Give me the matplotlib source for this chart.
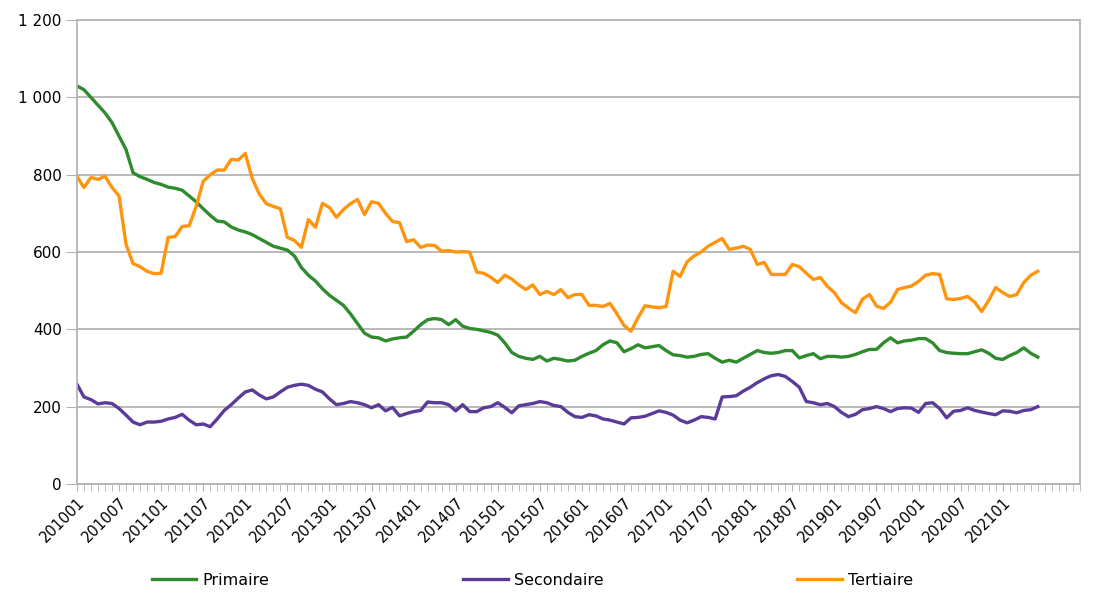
import matplotlib
matplotlib.use("Agg")
import matplotlib.pyplot as plt
from matplotlib.ticker import FuncFormatter, FixedLocator

plt.rcParams['font.family'] = ['DejaVu Sans']

# monthly categories 201001 .. 202112
mois = [f"{a}{m:02d}" for a in range(2010, 2022) for m in range(1, 13)]

primaire = [1030, 1020, 1000, 980, 960, 935, 900, 865, 805, 795,
            788, 780, 775, 768, 765, 760, 745, 730, 712, 695,
            680, 678, 665, 657, 652, 645, 635, 625, 615, 610,
            605, 590, 560, 540, 525, 505, 488, 475, 462, 440,
            415, 390, 380, 378, 370, 375, 378, 380, 395, 412,
            425, 428, 425, 412, 425, 408, 402, 400, 396, 392,
            385, 365, 340, 330, 325, 322, 330, 318, 325, 322,
            318, 320, 330, 338, 345, 360, 370, 365, 342, 350,
            360, 352, 355, 358, 345, 334, 332, 328, 330, 335,
            337, 325, 315, 320, 315, 325, 335, 345, 340, 338,
            340, 345, 345, 326, 332, 337, 324, 330, 330, 328,
            330, 335, 342, 348, 348, 365, 378, 365, 370, 372,
            376, 376, 365, 345, 340, 338, 337, 337, 342, 347,
            338, 325, 322, 332, 340, 352, 338, 328]

secondaire = [258, 225, 218, 207, 210, 208, 195, 178, 160, 153,
              160, 160, 162, 168, 172, 180, 165, 153, 155, 148,
              168, 190, 205, 222, 238, 243, 230, 220, 225, 238,
              250, 255, 258, 255, 245, 238, 220, 205, 208, 213,
              210, 205, 197, 205, 189, 198, 176, 182, 187, 190,
              212, 210, 210, 205, 189, 205, 187, 187, 197, 200,
              210, 198, 184, 202, 205, 208, 213, 210, 203, 200,
              185, 174, 172, 179, 176, 168, 165, 160, 155, 171,
              172, 175, 182, 189, 185, 178, 165, 158, 165, 174,
              172, 168, 225, 226, 228, 240, 250, 262, 272, 280,
              283, 278, 265, 250, 213, 210, 205, 208, 200, 185,
              174, 180, 192, 195, 200, 195, 187, 195, 197, 196,
              185, 208, 210, 195, 171, 188, 190, 197, 190, 186,
              182, 179, 189, 188, 184, 190, 192, 200]

tertiaire = [796, 767, 793, 788, 796, 767, 745, 620, 570, 562,
             550, 544, 545, 638, 640, 666, 668, 718, 783, 800,
             812, 812, 840, 838, 855, 790, 750, 725, 718, 712,
             638, 630, 612, 684, 664, 726, 715, 690, 710, 725,
             736, 697, 730, 726, 700, 679, 676, 627, 632, 612,
             618, 617, 602, 604, 600, 601, 600, 548, 545, 535,
             521, 540, 530, 515, 503, 515, 490, 498, 490, 503,
             482, 490, 490, 462, 462, 459, 467, 440, 410, 395,
             430, 461, 458, 456, 459, 550, 537, 575, 590, 600,
             615, 625, 635, 607, 610, 615, 607, 568, 573, 542,
             542, 542, 568, 562, 545, 529, 534, 511, 495, 469,
             455, 443, 478, 490, 460, 454, 470, 503, 508, 512,
             524, 540, 544, 542, 479, 477, 480, 485, 470, 446,
             475, 508, 495, 485, 490, 521, 540, 550]

fig = plt.figure(figsize=(10.93, 5.93), dpi=100)
ax = fig.add_axes([0.0704, 0.184, 0.9176, 0.782])

x = list(range(len(primaire)))
ax.plot(x, primaire, color='#2e8b2e', lw=2.4, label='Primaire')
ax.plot(x, secondaire, color='#5a3b98', lw=2.4, label='Secondaire')
ax.plot(x, tertiaire, color='#ff950e', lw=2.4, label='Tertiaire')

ax.set_xlim(0, len(mois) - 1)
ax.set_ylim(0, 1200)
ax.set_yticks(range(0, 1201, 200))
ax.yaxis.set_major_formatter(FuncFormatter(lambda v, p: f"{int(v):,}".replace(",", " ")))
ax.grid(axis='y', color='#b4b4b4', lw=1.3)
ax.set_axisbelow(True)

pos = list(range(0, len(primaire), 6))
ax.set_xticks(pos)
ax.set_xticklabels([mois[i] for i in pos], rotation=45, ha='right',
                   rotation_mode='anchor', fontsize=10.5)
ax.xaxis.set_minor_locator(FixedLocator(range(len(mois))))
ax.tick_params(axis='x', which='both', direction='out', length=5, color='#b4b4b4', pad=3)
ax.tick_params(axis='y', direction='out', length=8, color='#b4b4b4', labelsize=11, pad=3)

for s in ax.spines.values():
    s.set_color('#b4b4b4')
    s.set_linewidth(1.3)

fig.legend(loc='center', bbox_to_anchor=(0.487, 0.021), ncol=3, frameon=False,
           fontsize=11.5, handlelength=2.8, handletextpad=0.4, columnspacing=12.1)

fig.savefig('out.png', dpi=100, facecolor='white')
